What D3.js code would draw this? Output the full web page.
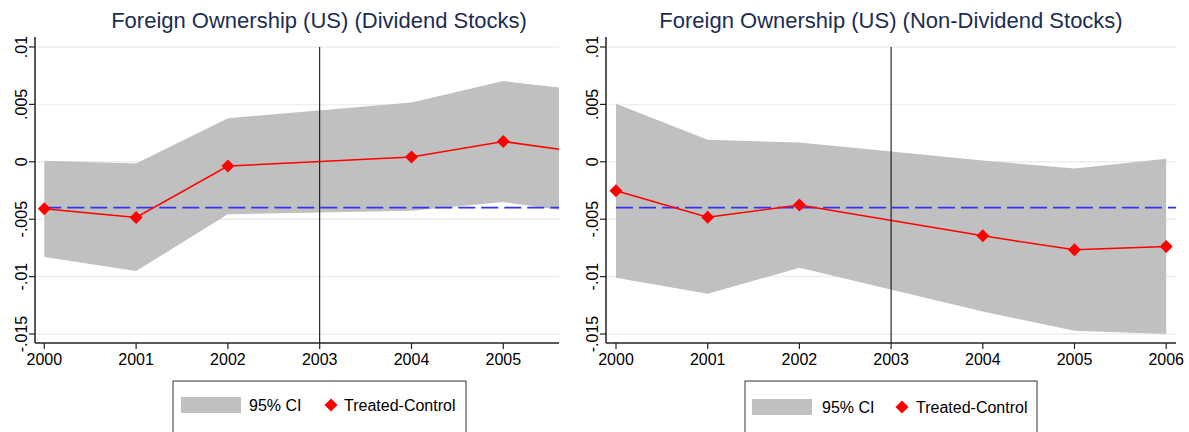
<!DOCTYPE html>
<html>
<head>
<meta charset="utf-8">
<script src="https://cdn.jsdelivr.net/npm/d3@7"></script>
<style>
  body { margin: 0; background: #fff; }
  svg { font-family: "Liberation Sans", Arial, sans-serif; }
</style>
</head>
<body>
<svg id="chart" width="1189" height="432"></svg>
<script>
// data (2003 is the event year, no estimate)
var years = [2000, 2001, 2002, 2004, 2005, 2006];

var divEst   = [-0.0041, -0.00485, -0.00037, 0.00041, 0.00177, 0.00067];
var divUpper = [0.00009, -0.00015, 0.0038, 0.00517, 0.00703, 0.0061];
var divLower = [-0.0083, -0.00952, -0.00456, -0.00427, -0.00351, -0.0046];

var nonEst   = [-0.00253, -0.00482, -0.00377, -0.00645, -0.00767, -0.00738];
var nonUpper = [0.00505, 0.00192, 0.00168, 0.00011, -0.00058, 0.00026];
var nonLower = [-0.0101, -0.0115, -0.00923, -0.01304, -0.01472, -0.0150];

var yTicks = [0.01, 0.005, 0, -0.005, -0.01, -0.015];
var yTickLabels = [".01", ".005", "0", "-.005", "-.01", "-.015"];
var refLine = -0.004;
var eventYear = 2003;

var titles = ["Foreign Ownership (US) (Dividend Stocks)",
              "Foreign Ownership (US) (Non-Dividend Stocks)"];
var legendLabels = ["95% CI", "Treated-Control"];

var svg = d3.select('#chart');

var y = d3.scaleLinear()
    .domain([0.01, -0.015])
    .range([47, 334]);

var panels = [
    {id: 'a', est: divEst, up: divUpper, lo: divLower, title: titles[0],
     left: 35, right: 559, x0: 44.3, step: 91.8, xTicks: [2000, 2001, 2002, 2003, 2004, 2005],
     titleX: 319, legend: {x: 173, w: 293, sw: 181, txt: 249, dia: 331, txt2: 344, cy: 405}},
    {id: 'b', est: nonEst, up: nonUpper, lo: nonLower, title: titles[1],
     left: 606, right: 1176, x0: 616, step: 91.7, xTicks: [2000, 2001, 2002, 2003, 2004, 2005, 2006],
     titleX: 891, legend: {x: 745, w: 292, sw: 752, txt: 822, dia: 902, txt2: 916, cy: 407}}
];

var plotTop = 37, plotBottom = 343;

panels.forEach(function (p) {
    var x = d3.scaleLinear()
        .domain([2000, 2001])
        .range([p.x0, p.x0 + p.step]);

    var g = svg.append('g');

    svg.append('clipPath')
        .attr('id', 'clip-' + p.id)
        .append('rect')
        .attr('x', p.left)
        .attr('y', plotTop)
        .attr('width', p.right - p.left)
        .attr('height', plotBottom - plotTop);

    // grid lines
    g.selectAll('.grid')
        .data(yTicks)
        .enter()
        .append('line')
        .attr('x1', p.left)
        .attr('x2', p.right)
        .attr('y1', function (d) { return y(d); })
        .attr('y2', function (d) { return y(d); })
        .attr('stroke', '#e8f0f2')
        .attr('stroke-width', 1.5);

    var plot = g.append('g').attr('clip-path', 'url(#clip-' + p.id + ')');

    var rows = years.map(function (yr, i) {
        return {yr: yr, est: p.est[i], up: p.up[i], lo: p.lo[i]};
    });

    plot.append('path')
        .datum(rows)
        .attr('fill', '#c0c0c0')
        .attr('d', d3.area()
            .x(function (d) { return x(d.yr); })
            .y0(function (d) { return y(d.lo); })
            .y1(function (d) { return y(d.up); }));

    plot.append('line')
        .attr('x1', x(2000))
        .attr('x2', p.right)
        .attr('y1', y(refLine))
        .attr('y2', y(refLine))
        .attr('stroke', '#3434f0')
        .attr('stroke-width', 1.8)
        .attr('stroke-dasharray', '17,6');

    plot.append('path')
        .datum(rows)
        .attr('fill', 'none')
        .attr('stroke', '#ff0000')
        .attr('stroke-width', 1.5)
        .attr('d', d3.line()
            .x(function (d) { return x(d.yr); })
            .y(function (d) { return y(d.est); }));

    plot.selectAll('.dot')
        .data(rows)
        .enter()
        .append('path')
        .attr('transform', function (d) {
            return 'translate(' + x(d.yr) + ',' + y(d.est) + ')';
        })
        .attr('d', 'M0,-6.5L6.5,0L0,6.5L-6.5,0Z')
        .attr('fill', '#ff0000');

    // event year line
    g.append('line')
        .attr('x1', x(eventYear))
        .attr('x2', x(eventYear))
        .attr('y1', y(0.01))
        .attr('y2', plotBottom)
        .attr('stroke', '#000')
        .attr('stroke-width', 1);

    // y axis
    g.append('line')
        .attr('x1', p.left).attr('x2', p.left)
        .attr('y1', plotTop).attr('y2', plotBottom)
        .attr('stroke', '#222').attr('stroke-width', 1.5);
    g.selectAll('.ytick')
        .data(yTicks)
        .enter()
        .append('line')
        .attr('x1', p.left - 6).attr('x2', p.left)
        .attr('y1', function (d) { return y(d); })
        .attr('y2', function (d) { return y(d); })
        .attr('stroke', '#222').attr('stroke-width', 1.2);
    g.selectAll('.ylab')
        .data(yTicks)
        .enter()
        .append('text')
        .attr('transform', function (d) {
            return 'translate(' + (p.left - 14) + ',' + y(d) + ') rotate(-90)';
        })
        .attr('text-anchor', 'middle')
        .attr('dy', '0.35em')
        .attr('font-size', 16)
        .attr('fill', '#000')
        .text(function (d, i) { return yTickLabels[i]; });

    // x axis
    g.append('line')
        .attr('x1', p.left).attr('x2', p.right)
        .attr('y1', plotBottom).attr('y2', plotBottom)
        .attr('stroke', '#222').attr('stroke-width', 1.5);
    g.selectAll('.xtick')
        .data(p.xTicks)
        .enter()
        .append('line')
        .attr('x1', function (d) { return x(d); })
        .attr('x2', function (d) { return x(d); })
        .attr('y1', plotBottom).attr('y2', plotBottom + 6)
        .attr('stroke', '#222').attr('stroke-width', 1.2);
    g.selectAll('.xlab')
        .data(p.xTicks)
        .enter()
        .append('text')
        .attr('x', function (d) { return x(d); })
        .attr('y', plotBottom + 22)
        .attr('text-anchor', 'middle')
        .attr('font-size', 16)
        .attr('fill', '#000')
        .text(function (d) { return d; });

    // title
    g.append('text')
        .attr('x', p.titleX)
        .attr('y', 28)
        .attr('text-anchor', 'middle')
        .attr('font-size', 22)
        .attr('fill', '#1c2d52')
        .text(p.title);

    // legend
    var L = p.legend;
    g.append('rect')
        .attr('x', L.x).attr('y', 381)
        .attr('width', L.w).attr('height', 60)
        .attr('fill', '#fff')
        .attr('stroke', '#333').attr('stroke-width', 1);
    g.append('rect')
        .attr('x', L.sw).attr('y', L.cy - 8)
        .attr('width', 60).attr('height', 16)
        .attr('fill', '#c0c0c0');
    g.append('text')
        .attr('x', L.txt).attr('y', L.cy + 6)
        .attr('font-size', 16)
        .text(legendLabels[0]);
    g.append('path')
        .attr('transform', 'translate(' + L.dia + ',' + L.cy + ')')
        .attr('d', 'M0,-6.5L6.5,0L0,6.5L-6.5,0Z')
        .attr('fill', '#ff0000');
    g.append('text')
        .attr('x', L.txt2).attr('y', L.cy + 6)
        .attr('font-size', 16)
        .text(legendLabels[1]);
});
</script>
</body>
</html>
